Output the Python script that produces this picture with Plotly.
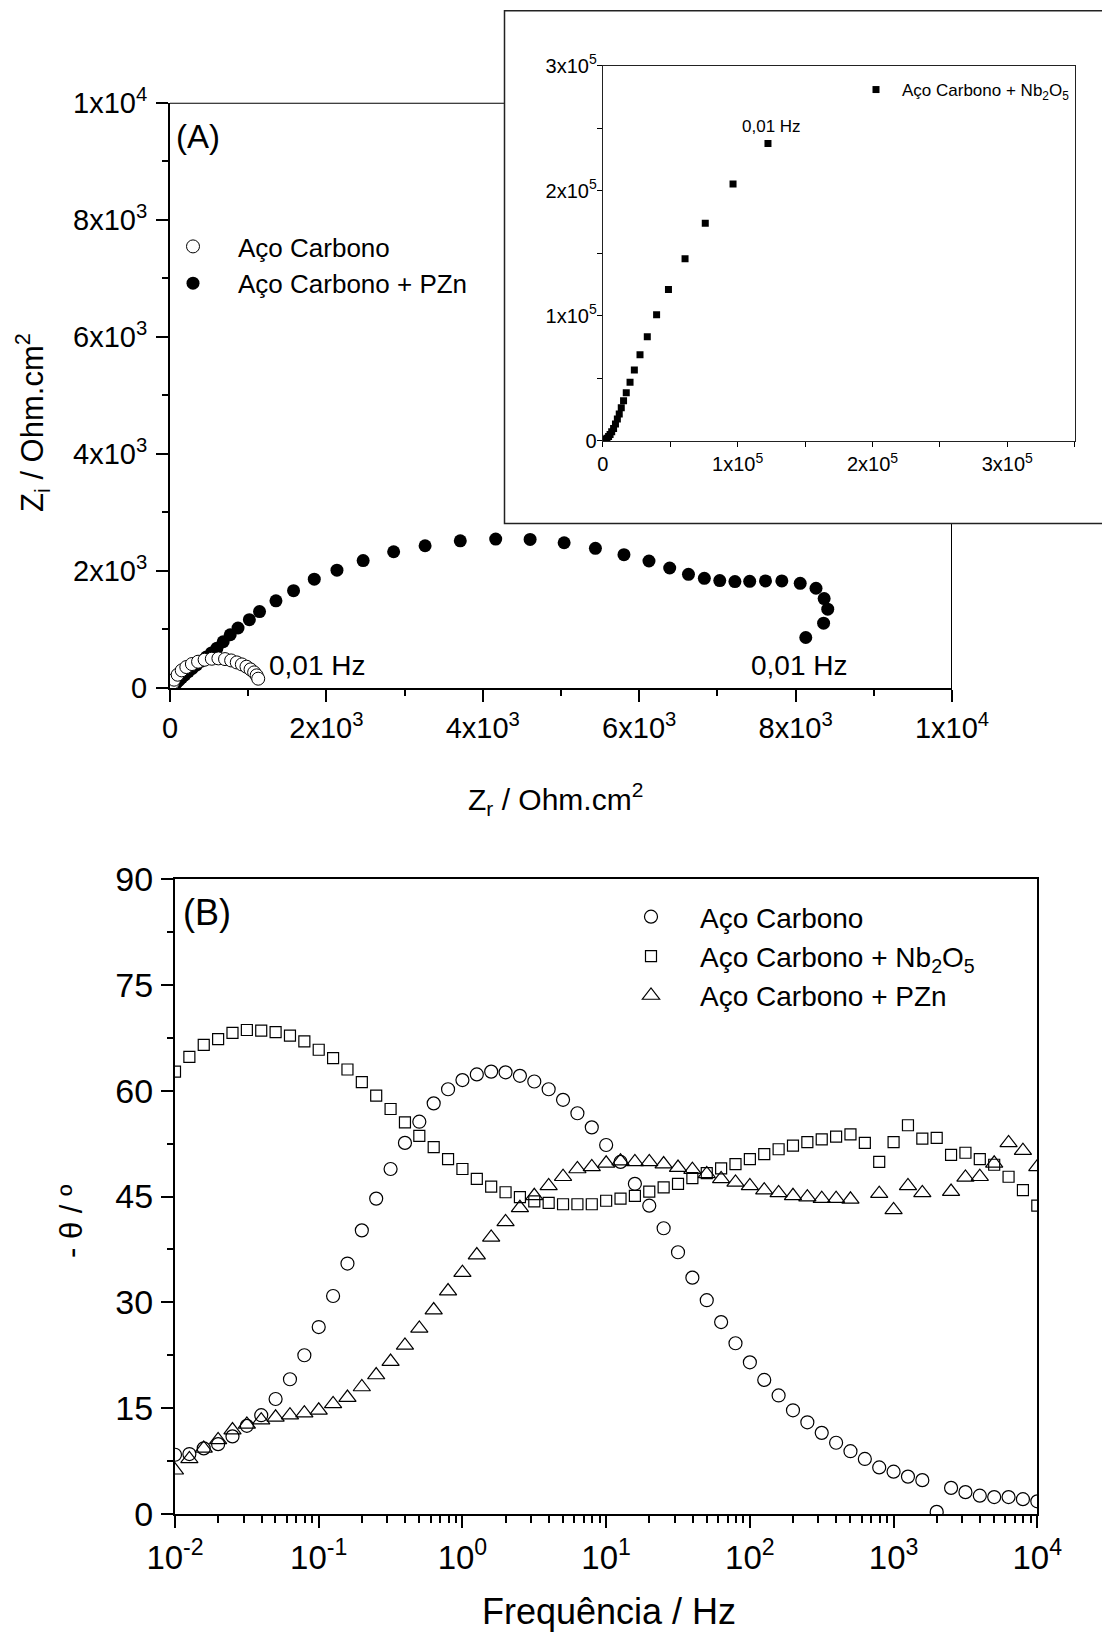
import plotly.graph_objects as go

W, H = 1102, 1638
FONT = "Liberation Sans, Arial, sans-serif"

# ---------------- DATA ----------------
# Panel A - Nyquist (Ohm.cm2)
aco_zr = [30, 38, 52, 98, 150, 209, 280, 359, 443, 535, 619, 704, 782, 854, 919, 978, 1030, 1076, 1108, 1128]
aco_zi = [40, 90, 142, 227, 301, 358, 409, 449, 483, 500, 506, 494, 471, 437, 403, 364, 318, 267, 216, 159]

pzn_zr = [25, 40, 60, 85, 115, 150, 190, 235, 285, 340, 400, 465, 530, 600, 680, 770, 870, 1015, 1145, 1355,
          1580, 1845, 2135, 2470, 2860, 3262, 3712, 4165, 4605, 5040, 5440, 5805, 6125, 6390, 6630, 6833,
          7030, 7224, 7413, 7615, 7824, 8059, 8261, 8365, 8411, 8358, 8130]
pzn_zi = [10, 20, 50, 90, 130, 175, 225, 280, 335, 395, 460, 530, 600, 680, 790, 910, 1025, 1167, 1305, 1490,
          1662, 1860, 2013, 2177, 2328, 2430, 2515, 2545, 2538, 2482, 2386, 2278, 2170, 2050, 1943, 1874,
          1835, 1818, 1823, 1829, 1829, 1789, 1704, 1528, 1346, 1108, 863]

# Inset - Nb2O5 (Ohm.cm2)
nb_zr = [200, 500, 900, 1400, 2300, 3100, 4300, 5400, 6600, 8000, 9400, 10800, 12200, 13700, 15400, 17400,
         20200, 23400, 27600, 33000, 39900, 48700, 61000, 76000, 96600, 122500]
nb_zi = [300, 600, 300, 800, 1400, 2200, 3500, 5100, 7300, 10000, 13500, 17600, 21600, 26500, 32200, 38600,
         47000, 56800, 68900, 83200, 100800, 121100, 145700, 174100, 205400, 237800]

# Panel B - Bode phase
freq = [10 ** (-2 + k / 10) for k in range(61)]
theta_aco = [8.4, 8.5, 9.3, 9.9, 11.0, 12.5, 14.0, 16.3, 19.1, 22.5, 26.5, 30.9, 35.5, 40.2, 44.7, 48.9,
             52.6, 55.6, 58.2, 60.2, 61.5, 62.3, 62.7, 62.6, 62.1, 61.3, 60.2, 58.7, 56.8, 54.8, 52.3, 49.9,
             46.8, 43.7, 40.5, 37.1, 33.5, 30.3, 27.2, 24.2, 21.5, 19.0, 16.8, 14.7, 13.0, 11.5, 10.1, 8.9,
             7.8, 6.6, 6.0, 5.3, 4.8, 0.3, 3.7, 3.1, 2.6, 2.4, 2.4, 2.1, 1.8]
theta_nb = [62.7, 64.8, 66.5, 67.3, 68.2, 68.6, 68.5, 68.3, 67.8, 67.0, 65.8, 64.6, 63.0, 61.2, 59.3, 57.4,
            55.5, 53.6, 52.0, 50.3, 48.9, 47.5, 46.4, 45.6, 44.9, 44.3, 44.1, 43.9, 43.9, 43.9, 44.4, 44.7,
            45.1, 45.7, 46.3, 46.8, 47.6, 48.3, 49.0, 49.6, 50.3, 51.0, 51.7, 52.2, 52.7, 53.1, 53.5, 53.8,
            52.6, 49.9, 52.7, 55.1, 53.2, 53.3, 50.9, 51.2, 50.3, 49.5, 47.8, 45.9, 43.7]
theta_pzn = [6.2, 7.8, 9.3, 10.5, 11.9, 12.7, 13.3, 13.7, 14.0, 14.3, 14.7, 15.6, 16.5, 18.0, 19.7, 21.6,
             23.9, 26.3, 28.9, 31.6, 34.2, 36.7, 39.2, 41.4, 43.4, 45.1, 46.5, 47.8, 48.9, 49.2, 49.7, 50.0,
             49.9, 49.9, 49.6, 49.1, 48.8, 48.2, 47.5, 47.0, 46.5, 45.9, 45.5, 45.1, 44.9, 44.7, 44.7, 44.6,
             None, 45.4, 43.1, 46.5, 45.5, None, 45.7, 47.7, 47.8, 49.7, 52.6, 51.5, 49.2]

# Tick labels
za_vals = [0, 2000, 4000, 6000, 8000, 10000]
za_text = ["0", "2x10<sup>3</sup>", "4x10<sup>3</sup>", "6x10<sup>3</sup>", "8x10<sup>3</sup>", "1x10<sup>4</sup>"]
zi_vals = [0, 100000, 200000, 300000]
zi_text = ["0", "1x10<sup>5</sup>", "2x10<sup>5</sup>", "3x10<sup>5</sup>"]
th_vals = [0, 15, 30, 45, 60, 75, 90]
th_text = ["0", "15", "30", "45", "60", "75", "90"]
f_vals = [0.01, 0.1, 1, 10, 100, 1000, 10000]
f_text = ["10<sup>-2</sup>", "10<sup>-1</sup>", "10<sup>0</sup>", "10<sup>1</sup>", "10<sup>2</sup>",
          "10<sup>3</sup>", "10<sup>4</sup>"]

# ---------------- LAYOUT HELPERS ----------------
def fx(p):
    return p / W

def fy(p):
    return 1 - p / H

fig = go.Figure()

# Panel A traces
fig.add_trace(go.Scatter(x=pzn_zr, y=pzn_zi, mode="markers", name="Aço Carbono + PZn",
                         marker=dict(symbol="circle", size=13, color="black", line=dict(width=0)),
                         xaxis="x", yaxis="y", legend="legend", legendrank=2))
fig.add_trace(go.Scatter(x=aco_zr, y=aco_zi, mode="markers", name="Aço Carbono",
                         marker=dict(symbol="circle", size=13, color="white", line=dict(width=1, color="black")),
                         xaxis="x", yaxis="y", legend="legend", legendrank=1))
# Inset
fig.add_trace(go.Scatter(x=nb_zr, y=nb_zi, mode="markers", name="Aço Carbono + Nb<sub>2</sub>O<sub>5</sub>",
                         marker=dict(symbol="square", size=7, color="black", line=dict(width=0)),
                         xaxis="x2", yaxis="y2", legend="legend2"))
# Panel B
fig.add_trace(go.Scatter(x=freq, y=theta_aco, mode="markers", name="Aço Carbono",
                         marker=dict(symbol="circle-open", size=13, color="black", line=dict(width=1.2)),
                         xaxis="x3", yaxis="y3", legend="legend3"))
fig.add_trace(go.Scatter(x=freq, y=theta_nb, mode="markers", name="Aço Carbono + Nb<sub>2</sub>O<sub>5</sub>",
                         marker=dict(symbol="square-open", size=11, color="black", line=dict(width=1.2)),
                         xaxis="x3", yaxis="y3", legend="legend3"))
fig.add_trace(go.Scatter(x=freq, y=theta_pzn, mode="markers", name="Aço Carbono + PZn",
                         marker=dict(symbol="triangle-up-open", size=15, color="black", line=dict(width=1.2)),
                         xaxis="x3", yaxis="y3", legend="legend3"))

axis_common = dict(showgrid=False, zeroline=False, showline=True, linecolor="black", ticks="outside",
                   tickcolor="black", color="black", automargin=False)

A_L, A_R, A_T, A_B = 170, 952, 102.7, 688
I_L, I_R, I_T, I_B = 602.8, 1074.7, 65.8, 440.9
B_L, B_R, B_T, B_B = 175, 1037.3, 879, 1514
BOX_L, BOX_T, BOX_B = 504.5, 10.8, 523.6

fig.update_layout(
    width=W, height=H, margin=dict(l=0, r=0, t=0, b=0, pad=0, autoexpand=False),
    paper_bgcolor="white", plot_bgcolor="rgba(0,0,0,0)",
    font=dict(family=FONT, color="black"),
    xaxis=dict(axis_common, domain=[fx(A_L), fx(A_R)], range=[0, 10000], anchor="y",
               tickvals=za_vals, ticktext=za_text, ticklen=12, tickwidth=2, linewidth=2,
               tickfont=dict(size=29), ticklabelstandoff=1,
               minor=dict(dtick=1000, ticks="outside", ticklen=6, tickwidth=2, tickcolor="black")),
    yaxis=dict(axis_common, domain=[fy(A_B), fy(A_T)], range=[0, 10000], anchor="x",
               tickvals=za_vals, ticktext=za_text, ticklen=12, tickwidth=2, linewidth=2,
               tickfont=dict(size=29), ticklabelstandoff=3,
               minor=dict(dtick=1000, ticks="outside", ticklen=6, tickwidth=2, tickcolor="black")),
    xaxis2=dict(axis_common, domain=[fx(I_L), fx(I_R)], range=[0, 350000], anchor="y2", mirror=True,
                tickvals=zi_vals, ticktext=zi_text, ticklen=5, tickwidth=1, linewidth=1.2, linecolor="#222",
                tickfont=dict(size=20), minor=dict(dtick=50000, ticks="outside", ticklen=5, tickwidth=1,
                                                     tickcolor="black")),
    yaxis2=dict(axis_common, domain=[fy(I_B), fy(I_T)], range=[0, 300000], anchor="x2", mirror=True,
                tickvals=zi_vals, ticktext=zi_text, ticklen=5, tickwidth=1, linewidth=1.2, linecolor="#222",
                tickfont=dict(size=20), ticklabelstandoff=-4,
                minor=dict(dtick=50000, ticks="outside", ticklen=5, tickwidth=1, tickcolor="black")),
    xaxis3=dict(axis_common, type="log", domain=[fx(B_L), fx(B_R)], range=[-2, 4], anchor="y3", mirror=True,
                tickvals=f_vals, ticktext=f_text, ticklen=12, tickwidth=2, linewidth=2,
                tickfont=dict(size=33), ticklabelstandoff=1,
                minor=dict(dtick="D1", ticks="outside", ticklen=7, tickwidth=2, tickcolor="black")),
    yaxis3=dict(axis_common, domain=[fy(B_B), fy(B_T)], range=[0, 90], anchor="x3", mirror=True,
                tickvals=th_vals, ticktext=th_text, ticklen=12, tickwidth=2, linewidth=2,
                tickfont=dict(size=34), ticklabelstandoff=1,
                minor=dict(dtick=7.5, ticks="outside", ticklen=6, tickwidth=2, tickcolor="black")),
    legend=dict(x=fx(148), y=fy(223), xanchor="left", yanchor="top", itemwidth=80,
                font=dict(size=26), bgcolor="rgba(0,0,0,0)", borderwidth=0),
    legend2=dict(x=fx(850), y=fy(72), xanchor="left", yanchor="top", itemwidth=42,
                 font=dict(size=17), bgcolor="rgba(0,0,0,0)", borderwidth=0),
    legend3=dict(x=fx(602), y=fy(892), xanchor="left", yanchor="top", itemwidth=88,
                 font=dict(size=28), bgcolor="rgba(0,0,0,0)", borderwidth=0),
)

shapes = [
    # panel A frame (top and right), interrupted by the inset box
    dict(type="line", xref="paper", yref="y", x0=fx(A_L), x1=fx(BOX_L), y0=10000, y1=10000,
         line=dict(color="black", width=2)),
    dict(type="line", xref="x", yref="paper", x0=10000, x1=10000, y0=fy(A_B), y1=fy(BOX_B),
         line=dict(color="black", width=2)),
    # inset outer box
    dict(type="rect", xref="paper", yref="paper", x0=fx(BOX_L), x1=1.05, y0=fy(BOX_B), y1=fy(BOX_T),
         line=dict(color="#222", width=1.5), fillcolor="rgba(0,0,0,0)"),
]
fig.update_layout(shapes=shapes)

annotations = [
    dict(text="(A)", x=fx(197.5), y=fy(136), xref="paper", yref="paper", showarrow=False,
         font=dict(size=33), xanchor="center", yanchor="middle"),
    dict(text="(B)", x=fx(207), y=fy(912), xref="paper", yref="paper", showarrow=False,
         font=dict(size=36), xanchor="center", yanchor="middle"),
    dict(text="0,01 Hz", x=1880, y=393, xref="x", yref="y", showarrow=False, font=dict(size=28),
         xanchor="center", yanchor="middle"),
    dict(text="0,01 Hz", x=8056, y=393, xref="x", yref="y", showarrow=False, font=dict(size=28),
         xanchor="center", yanchor="middle"),
    dict(text="0,01 Hz", x=124800, y=251500, xref="x2", yref="y2", showarrow=False, font=dict(size=17),
         xanchor="center", yanchor="middle"),
    dict(text="Z<sub>r</sub> / Ohm.cm<sup>2</sup>", x=fx(555), y=fy(799), xref="paper", yref="paper",
         showarrow=False, font=dict(size=30), xanchor="center", yanchor="middle"),
    dict(text="Z<sub>i</sub> / Ohm.cm<sup>2</sup>", x=fx(33), y=fy(423), xref="paper", yref="paper",
         showarrow=False, font=dict(size=31), textangle=-90, xanchor="center", yanchor="middle"),
    dict(text="Frequência / Hz", x=fx(609), y=fy(1611), xref="paper", yref="paper",
         showarrow=False, font=dict(size=36), xanchor="center", yanchor="middle"),
    dict(text="- θ / º", x=fx(71), y=fy(1222), xref="paper", yref="paper",
         showarrow=False, font=dict(size=31), textangle=-90, xanchor="center", yanchor="middle"),
]
fig.update_layout(annotations=annotations)

fig.write_html("out.html")
